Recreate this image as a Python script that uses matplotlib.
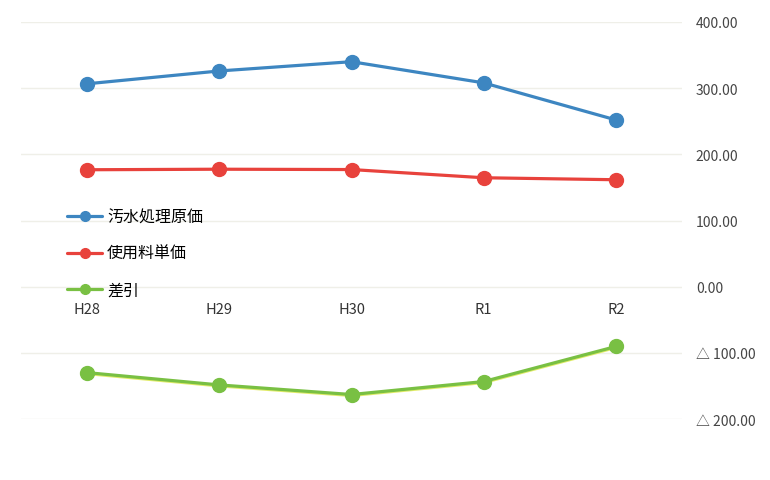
import matplotlib
matplotlib.use("Agg")
import matplotlib.pyplot as plt
import matplotlib.patheffects as pe

plt.rcParams["font.family"] = ["Noto Sans CJK JP", "DejaVu Sans"]

years = ["H28", "H29", "H30", "R1", "R2"]
cost = [306.6, 326.0, 340.0, 308.0, 252.0]   # 汚水処理原価
price = [176.7, 177.5, 177.0, 164.6, 161.6]  # 使用料単価
diff = [-129.9, -148.5, -163.0, -143.4, -90.4]  # 差引
yticks = [400, 300, 200, 100, 0, -100, -200]

fig = plt.figure(figsize=(7.7, 4.81), dpi=100)
ax = fig.add_axes([0.0273, 0.1268, 0.8584, 0.8254])

x = range(len(years))
style = dict(lw=2.3, marker="o", ms=10, solid_capstyle="round")
ax.plot(x, cost, color="#3d86c1", label="汚水処理原価", zorder=3, **style)
ax.plot(x, price, color="#e8423c", label="使用料単価", zorder=3, **style)
# faint yellow fringe under the green line, as in the scanned original
ax.plot(x, diff, color="#e2ec6a", lw=2.3, zorder=2,
        path_effects=[pe.SimpleLineShadow(offset=(0, -0.7), shadow_color="#e2ec6a", alpha=1)])
ax.plot(x, diff, color="#79c043", label="差引", zorder=3, **style)

ax.set_xlim(-0.5, 4.5)
ax.set_ylim(-200, 400)
ax.set_yticks(yticks)
ax.set_yticklabels([f"{v:.2f}" if v >= 0 else f"△ {-v:.2f}" for v in yticks])
ax.yaxis.tick_right()
ax.tick_params(axis="y", length=0, pad=10, labelsize=10, labelcolor="#454545")
ax.grid(axis="y", color="#efefe8", lw=1)
ax.set_axisbelow(True)

ax.set_xticks(list(x))
ax.set_xticklabels(years)
ax.spines["bottom"].set_position(("data", 0))
ax.tick_params(axis="x", length=0, pad=11, labelsize=10.5, labelcolor="#333333")
for s in ax.spines.values():
    s.set_visible(False)

ax.legend(loc="upper left", bbox_to_anchor=(0.06, 0.545), frameon=False,
          fontsize=11.5, labelspacing=1.2, handlelength=2.2, handletextpad=0.3,
          markerscale=0.7, borderaxespad=0)

fig.savefig("out.png", dpi=100, facecolor="white")
